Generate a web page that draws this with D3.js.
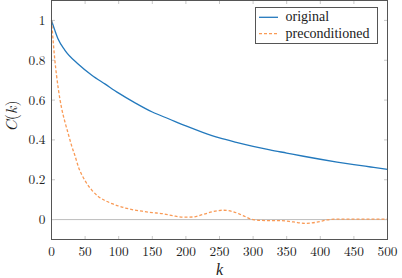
<!DOCTYPE html>
<html><head><meta charset="utf-8">
<script src="https://cdn.jsdelivr.net/npm/d3@7"></script>
<style>body{margin:0;background:#fff}svg{display:block}</style>
</head><body><svg id="c" width="402" height="278"></svg>
<script>
const origK = [0,5,10,20,40,60,80,100,125,150,175,200,225,250,275,300,325,350,375,400,425,450,475,500];
const origV = [1.0,0.95,0.905,0.85,0.78,0.725,0.68,0.635,0.585,0.54,0.505,0.47,0.438,0.41,0.388,0.368,0.35,0.334,0.318,0.303,0.289,0.276,0.264,0.252];
const precK = [0,5,10,15,20,25,30,35,40,50,60,70,80,90,100,110,120,135,150,165,180,195,210,225,240,255,270,285,300,320,340,360,377,395,410,420,450,500];
const precV = [1.0,0.80,0.66,0.56,0.49,0.43,0.37,0.32,0.265,0.195,0.148,0.115,0.095,0.08,0.068,0.058,0.05,0.042,0.035,0.03,0.02,0.012,0.013,0.025,0.04,0.047,0.04,0.02,0.0,-0.005,-0.005,-0.012,-0.019,-0.013,-0.002,0.002,0.002,0.002];
const xTicks = [0,50,100,150,200,250,300,350,400,450,500];
const yTicks = [0,0.2,0.4,0.6,0.8,1];
const seriesNames = ["original","preconditioned"];
const colors = ["#2379bd","#f99a56"];

const FONT = '"Latin Modern Roman","Liberation Serif","DejaVu Serif"';
const FONT2 = '"Liberation Serif","DejaVu Serif"';
const svg = d3.select("#c");
const L=51.5, R=387.5, T=0.5, B=239.5;
const x = d3.scaleLinear().domain([0,500]).range([L,R]);
const y = d3.scaleLinear().domain([-0.1,1.1]).range([B,T]);

svg.append("line").attr("x1",L).attr("x2",R).attr("y1",y(0)).attr("y2",y(0))
  .attr("stroke","#bdbdbd").attr("stroke-width",1);

const tk = 3.5, tc="#c8c8c8";
xTicks.forEach(t=>{
  svg.append("line").attr("x1",x(t)).attr("x2",x(t)).attr("y1",B).attr("y2",B-tk).attr("stroke",tc);
  svg.append("line").attr("x1",x(t)).attr("x2",x(t)).attr("y1",T).attr("y2",T+tk).attr("stroke",tc);
});
yTicks.forEach(t=>{
  svg.append("line").attr("x1",L).attr("x2",L+tk).attr("y1",y(t)).attr("y2",y(t)).attr("stroke",tc);
  svg.append("line").attr("x1",R).attr("x2",R-tk).attr("y1",y(t)).attr("y2",y(t)).attr("stroke",tc);
});

const line = d3.line().curve(d3.curveMonotoneX).x(d=>x(d[0])).y(d=>y(d[1]));
svg.append("path").datum(origK.map((k,i)=>[k,origV[i]])).attr("d",line)
  .attr("fill","none").attr("stroke",colors[0]).attr("stroke-width",1.3);
svg.append("path").datum(precK.map((k,i)=>[k,precV[i]])).attr("d",line)
  .attr("fill","none").attr("stroke",colors[1]).attr("stroke-width",1.3).attr("stroke-dasharray","3,2");

svg.append("rect").attr("x",L).attr("y",T).attr("width",R-L).attr("height",B-T)
  .attr("fill","none").attr("stroke","#555").attr("stroke-width",1);

xTicks.forEach(t=>{
  svg.append("text").attr("x",x(t)).attr("y",256).attr("text-anchor","middle")
    .style("font-family",FONT).attr("font-size",13.3).attr("fill","#222").text(t);
});
yTicks.forEach(t=>{
  svg.append("text").attr("x",45.5).attr("y",y(t)+4.5).attr("text-anchor","end")
    .style("font-family",FONT).attr("font-size",13.3).attr("fill","#222").text(d3.format("")(t));
});

svg.append("text").attr("x",x(250)).attr("y",274.5).attr("text-anchor","middle")
  .style("font-family",FONT2).attr("font-size",16).attr("font-style","italic").attr("fill","#222").text("k");
const yl = svg.append("text").attr("transform","translate(17,116) rotate(-90)").attr("text-anchor","middle")
  .style("font-family",FONT).attr("font-size",16).attr("fill","#222");
yl.append("tspan").attr("font-style","italic").text("C");
yl.append("tspan").text("(");
yl.append("tspan").attr("font-style","italic").text("k");
yl.append("tspan").text(")");

const lg = svg.append("g");
lg.append("rect").attr("x",255.5).attr("y",7.5).attr("width",122).attr("height",36)
  .attr("fill","#fff").attr("stroke","#555").attr("stroke-width",1);
seriesNames.forEach((n,i)=>{
  const yy = 17.3 + i*16.3;
  lg.append("line").attr("x1",259).attr("x2",278).attr("y1",yy).attr("y2",yy)
    .attr("stroke",colors[i]).attr("stroke-width",1.3).attr("stroke-dasharray",i?"3,2":null);
  lg.append("text").attr("x",285.5).attr("y",yy+4).style("font-family",FONT2).attr("font-size",14)
    .attr("fill","#222").text(n);
});
</script></body></html>
